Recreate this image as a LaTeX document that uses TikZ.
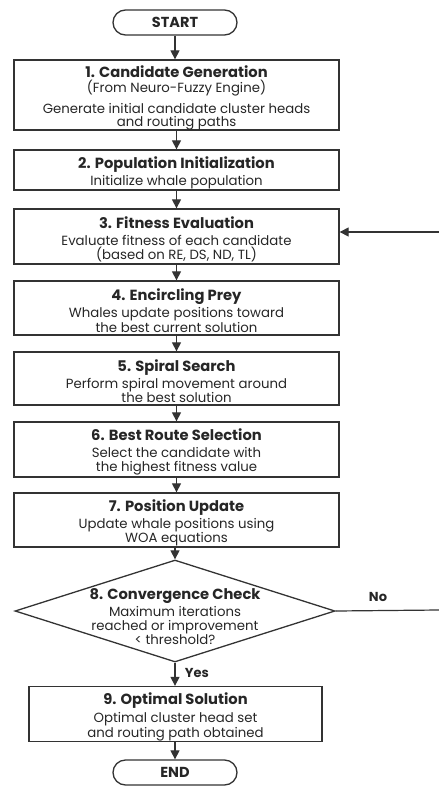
\documentclass[tikz,border=0pt]{standalone}
\usepackage{fontspec}
\setmainfont{Poppins}
\usetikzlibrary{arrows.meta,shapes.geometric}
\definecolor{ink}{HTML}{262626}
\definecolor{edge}{HTML}{333333}
\newcommand{\stepbody}{\fontsize{13.3}{14.5}\selectfont}
% the strut keeps every title line equally tall, lowering the text block a little
\newcommand{\steptitle}[1]{{\fontsize{14.7}{14.5}\selectfont\bfseries\rule{0pt}{17pt}#1}}
\tikzset{
  stepbox/.style={draw=edge, line width=1.3pt, rectangle, minimum width=325pt,
    inner sep=0pt, align=center, text=ink, font=\stepbody},
  termbox/.style={draw=edge, line width=1.3pt, rectangle, rounded corners=12.5pt,
    minimum width=124pt, minimum height=25pt, inner sep=0pt, text=ink,
    font=\fontsize{14.5}{15}\selectfont\bfseries},
  decbox/.style={draw=edge, line width=1.3pt, diamond, minimum width=320pt,
    minimum height=102pt, inner sep=0pt},
  flow/.style={draw=edge, line width=1.2pt, -{Triangle[length=9pt,width=9pt]}},
  plain/.style={draw=edge, line width=1.2pt},
  tag/.style={text=ink, font=\fontsize{13}{15}\selectfont\bfseries}
}
\begin{document}
\begin{tikzpicture}[x=1pt,y=-1pt]
  \clip (0,0) rectangle (439,787);
  \useasboundingbox (0,0) rectangle (439,787);

  \node[termbox] (start) at (175,22.5) {START};

  \node[stepbox, minimum height=70pt] (s1) at (176.5,95)
    {\steptitle{1. Candidate Generation}\\[0.5pt]
     (From Neuro-Fuzzy Engine)\\[6.5pt]
     Generate initial candidate cluster heads\\[-1.5pt]
     and routing paths};

  \node[stepbox, minimum height=40pt] (s2) at (176.5,170)
    {\steptitle{2. Population Initialization}\\[2.5pt]
     Initialize whale population};

  \node[stepbox, minimum height=55pt] (s3) at (176.5,236.5)
    {\steptitle{3. Fitness Evaluation}\\[2.5pt]
     Evaluate fitness of each candidate\\
     (based on RE, DS, ND, TL)};

  \node[stepbox, minimum height=54pt] (s4) at (176.5,308)
    {\steptitle{4. Encircling Prey}\\[2.5pt]
     Whales update positions toward\\
     the best current solution};

  \node[stepbox, minimum height=53pt] (s5) at (176.5,378.5)
    {\steptitle{5. Spiral Search}\\[2.5pt]
     Perform spiral movement around\\
     the best solution};

  \node[stepbox, minimum height=55pt] (s6) at (176.5,449.5)
    {\steptitle{6. Best Route Selection}\\[2.5pt]
     Select the candidate with\\
     the highest fitness value};

  \node[stepbox, minimum height=54pt] (s7) at (176.5,520)
    {\steptitle{7. Position Update}\\[2.5pt]
     Update whale positions using\\
     WOA equations};

  \node[decbox] (s8) at (175,611) {};
  \node[align=center, text=ink, inner sep=0pt, font=\stepbody] (s8text) at (175,613.5)
    {\steptitle{8. Convergence Check}\\[2.5pt]
     Maximum iterations\\
     reached or improvement\\[-0.5pt]
     < threshold?};

  \node[stepbox, minimum width=293pt, minimum height=55pt] (s9) at (175.5,714)
    {\steptitle{9. Optimal Solution}\\[4pt]
     Optimal cluster head set\\
     and routing path obtained};

  \node[termbox] (end) at (175,772.5) {END};

  % main downward flow
  \draw[flow] (start) -- (start |- s1.north);
  \draw[flow] (s1) -- (s2);
  \draw[flow] (s2) -- (s3);
  \draw[flow] (s3) -- (s4);
  \draw[flow] (s4) -- (s5);
  \draw[flow] (s5) -- (s6);
  \draw[flow] (s6) -- (s7);
  \draw[flow] (s7.south -| s8.north) -- (s8.north);
  \draw[flow] (s8.south) -- (s8.south |- s9.north)
    node[tag, pos=0.45, right=6pt] {Yes};
  \draw[flow] (s8.south |- s9.south) -- (end);

  % loop back when not converged
  \coordinate (noend) at (439,610);
  \coordinate (backin) at (439,232);
  \draw[plain] (s8.east) -- (noend);
  \node[tag] (nolabel) at (378,597) {No};
  \draw[flow] (backin) -- (s3.east |- backin);
\end{tikzpicture}
\end{document}
